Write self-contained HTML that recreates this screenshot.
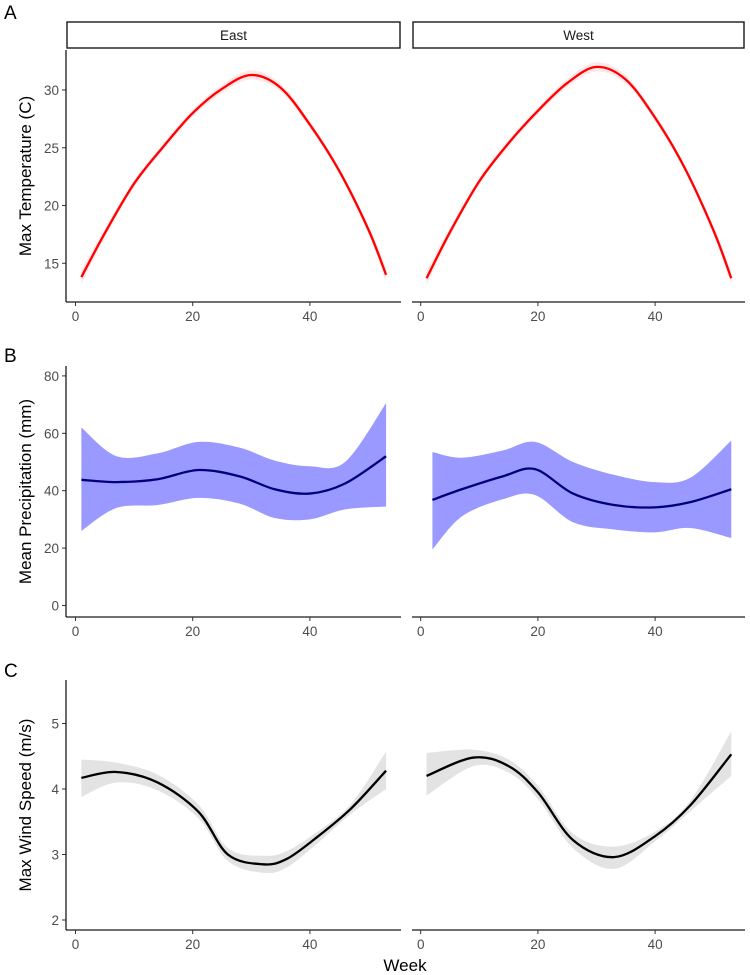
<!DOCTYPE html>
<html><head><meta charset="utf-8"><style>
body{margin:0;background:#fff}
svg{display:block;font-family:"Liberation Sans",sans-serif}
</style></head><body>
<svg id="c" width="750" height="975"></svg>
<script>
const weekTicks=[0,20,40];
const tempTicks=[15,20,25,30];
const precTicks=[0,20,40,60,80];
const windTicks=[2,3,4,5];
const facets=["East","West"];
const tempWeeks=[1,5,10,15,20,25,30,35,40,45,50,53];
const tempEast=[13.8,17.6,21.9,25.1,28.0,30.1,31.3,30.2,27.0,23.0,17.9,14.0];
const tempWest=[13.7,17.7,22.1,25.4,28.2,30.6,32.0,30.9,27.6,23.3,17.8,13.7];
const tempSe=[0.6,0.4,0.3,0.3,0.3,0.35,0.4,0.35,0.3,0.3,0.4,0.6];
const precWeeksE=[1,7,14,21,28,34,40,46,53];
const precEast=[43.8,43,44,47.2,45,40.5,39,42.5,52];
const precEastHi=[62,52,53,57,55,50.5,48.5,50,70.5];
const precEastLo=[26,34,35,37.5,35.5,30.5,30,33.5,34.5];
const precWeeksW=[2,7,14,19.5,26,33,40,46,53];
const precWest=[36.8,40.5,45,47.5,39,35,34.2,36,40.5];
const precWestHi=[53.5,51.5,54,57,50,45.5,43,44.5,57.5];
const precWestLo=[19.5,31,37,38.5,29,26.5,25.5,27,23.5];
const windWeeksE=[1,7,14,21,26,32,36,41,47,53];
const windEast=[4.17,4.26,4.1,3.65,3.0,2.85,2.93,3.25,3.7,4.28];
const windEastHi=[4.45,4.4,4.22,3.76,3.1,2.98,3.05,3.33,3.77,4.57];
const windEastLo=[3.88,4.1,3.98,3.55,2.9,2.72,2.8,3.15,3.62,4.0];
const windWeeksW=[1,9,15,20,26,33,40,46,53];
const windWest=[4.2,4.48,4.35,3.95,3.22,2.96,3.28,3.75,4.53];
const windWestHi=[4.55,4.6,4.45,4.05,3.32,3.12,3.35,3.82,4.88];
const windWestLo=[3.9,4.35,4.25,3.85,3.1,2.78,3.2,3.66,4.2];

const svg=document.getElementById('c');
const NS='http://www.w3.org/2000/svg';
function mk(t,a,p){const e=document.createElementNS(NS,t);for(const k in a)e.setAttribute(k,a[k]);(p||svg).appendChild(e);return e;}
const panelsX=[{x0:66,x1:401,z:75.5},{x0:412,x1:745,z:420.7}];
const pxPerWeek=5.86;
function path(xs,ys){let d='M'+xs[0]+','+ys[0];for(let i=0;i<xs.length-1;i++){const x0=xs[Math.max(0,i-1)],y0=ys[Math.max(0,i-1)],x3=xs[Math.min(xs.length-1,i+2)],y3=ys[Math.min(xs.length-1,i+2)];
const c1x=xs[i]+(xs[i+1]-x0)/6,c1y=ys[i]+(ys[i+1]-y0)/6,c2x=xs[i+1]-(x3-xs[i])/6,c2y=ys[i+1]-(y3-ys[i])/6;d+=`C${c1x},${c1y} ${c2x},${c2y} ${xs[i+1]},${ys[i+1]}`;}return d;}
function row(cfg){
  const yS=v=>cfg.y0+(v-cfg.v0)*cfg.k;
  let t=mk('text',{x:4,y:cfg.letterY,'font-size':19,fill:'#000'});t.textContent=cfg.letter;
  
  let yl=mk('text',{x:0,y:0,'font-size':17,fill:'#000','text-anchor':'middle',transform:`translate(31,${(cfg.top+cfg.bot)/2}) rotate(-90)`});yl.textContent=cfg.ylab;
  
  cfg.ticks.forEach(v=>{const y=yS(v);mk('line',{x1:62,x2:66,y1:y,y2:y,stroke:'#333','stroke-width':1});
    const tl=mk('text',{x:59,y:y+5,'font-size':13.5,fill:'#4d4d4d','text-anchor':'end'});tl.textContent=v;
    });
  panelsX.forEach((p,i)=>{
    const xS=w=>p.z+w*pxPerWeek;
    const s=cfg.series[i];
    const xs=s.w.map(xS);
    const hi=s.hi.map(yS),lo=s.lo.map(yS);
    const up=path(xs,hi);
    const lr=path(xs.slice().reverse(),lo.slice().reverse()).replace(/^M/,'L');
    const band=mk('path',{d:up+lr+'Z',fill:cfg.bandFill,'fill-opacity':cfg.bandOp});
    
    const ln=mk('path',{d:path(xs,s.v.map(yS)),fill:'none',stroke:cfg.line,'stroke-width':2.3});
    
    mk('line',{x1:p.x0,x2:p.x1,y1:cfg.bot,y2:cfg.bot,stroke:'#1a1a1a','stroke-width':1.3});
    if(i==0)mk('line',{x1:66,x2:66,y1:cfg.top,y2:cfg.bot,stroke:'#1a1a1a','stroke-width':1.3});
    weekTicks.forEach(w=>{const x=xS(w);mk('line',{x1:x,x2:x,y1:cfg.bot,y2:cfg.bot+4,stroke:'#333'});
      const tl=mk('text',{x:x,y:cfg.bot+19,'font-size':13.5,fill:'#4d4d4d','text-anchor':'middle'});tl.textContent=w;
      });
    if(cfg.strip){const r=mk('rect',{x:p.x0+1,y:22,width:p.x1-p.x0-2,height:26,fill:'#fff',stroke:'#1a1a1a','stroke-width':1.4});
      
      const st=mk('text',{x:(p.x0+p.x1)/2,y:40,'font-size':13.5,fill:'#1a1a1a','text-anchor':'middle'});st.textContent=facets[i];
      }
  });
}
const tse=(a)=>a.map((v,i)=>v+tempSe[i]);const tsl=(a)=>a.map((v,i)=>v-tempSe[i]);
row({letter:'A',letterY:19,top:50,bot:302,ylab:'Max Temperature (C)',ticks:tempTicks,v0:30,y0:90,k:-11.55,strip:true,line:'#ff0000',bandFill:'#ffb6c1',bandOp:0.35,
  series:[{w:tempWeeks,v:tempEast,hi:tse(tempEast),lo:tsl(tempEast)},{w:tempWeeks,v:tempWest,hi:tse(tempWest),lo:tsl(tempWest)}]});
row({letter:'B',letterY:362,top:366,bot:617,ylab:'Mean Precipitation (mm)',ticks:precTicks,v0:40,y0:490.7,k:-2.87,line:'#00007a',bandFill:'#9999ff',bandOp:1,
  series:[{w:precWeeksE,v:precEast,hi:precEastHi,lo:precEastLo},{w:precWeeksW,v:precWest,hi:precWestHi,lo:precWestLo}]});
row({letter:'C',letterY:677,top:680,bot:930,ylab:'Max Wind Speed (m/s)',ticks:windTicks,v0:4,y0:789,k:-65.5,line:'#000',bandFill:'#e3e3e3',bandOp:1,
  series:[{w:windWeeksE,v:windEast,hi:windEastHi,lo:windEastLo},{w:windWeeksW,v:windWest,hi:windWestHi,lo:windWestLo}]});
const wk=mk('text',{x:405,y:971,'font-size':17,fill:'#000','text-anchor':'middle'});wk.textContent='Week';

</script>
</body></html>
